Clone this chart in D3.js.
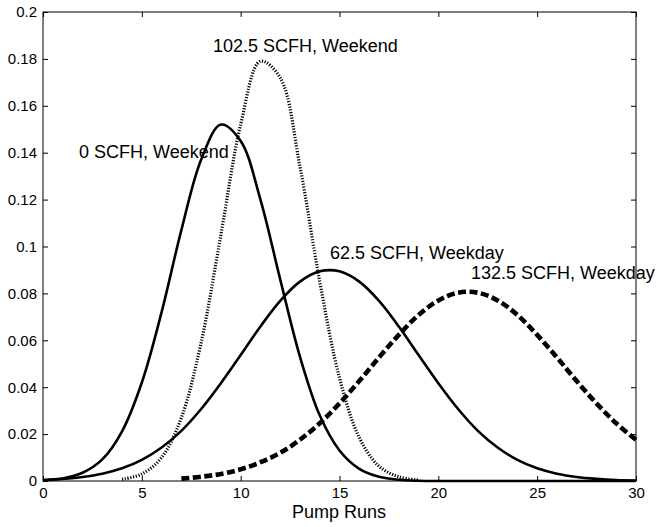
<!DOCTYPE html>
<html><head><meta charset="utf-8">
<script src="https://cdn.jsdelivr.net/npm/d3@7"></script>
<style>
body{margin:0;background:#fff;}
svg{display:block;font-family:"Liberation Sans",Arial,sans-serif;}
</style></head>
<body><svg id="chart" width="662" height="527"></svg>
<script>
// Data (Pump Runs -> probability)
const xs0 = [0,1,2,3,4,5,6,7,8,9,10,11,12,13,14,15,16,17,18,19,20,21,22,23,24,25,26,27,28,29,30];
const weekend0 = [0.0003,0.0011,0.0035,0.0092,0.0212,0.042,0.072,0.107,0.137,0.152,0.145,0.120,0.086,0.053,0.028,0.013,0.0052,0.0018,0.0005,0.0001,0,0,0,0,0,0,0,0,0,0,0];
const xs102 = [4,5,6,7,8,9,10,11,12,13,14,15,16,17,18,19];
const weekend102 = [0.0007,0.003,0.010,0.027,0.059,0.105,0.152,0.179,0.172,0.134,0.085,0.044,0.0185,0.0063,0.0018,0.0004];
const weekday62 = [0.0004,0.0009,0.0017,0.0031,0.0054,0.009,0.0143,0.0214,0.0307,0.0417,0.0537,0.0659,0.0768,0.085,0.0894,0.0894,0.085,0.0768,0.0659,0.0537,0.0417,0.0307,0.0214,0.0143,0.009,0.0054,0.0031,0.0017,0.0009,0.0004,0.0002];
const xs132 = [7,8,9,10,11,12,13,14,15,16,17,18,19,20,21,22,23,24,25,26,27,28,29,30];
const weekday132 = [0.001,0.0018,0.003,0.005,0.008,0.012,0.0176,0.0246,0.0331,0.0426,0.0527,0.0623,0.0708,0.077,0.0803,0.0803,0.077,0.0708,0.0623,0.0527,0.0426,0.0331,0.0246,0.0176];
const xTicks = [0,5,10,15,20,25,30];
const yTicks = [0,0.02,0.04,0.06,0.08,0.1,0.12,0.14,0.16,0.18,0.2];
const labels = ["0 SCFH, Weekend","102.5 SCFH, Weekend","62.5 SCFH, Weekday","132.5 SCFH, Weekday"];

const svg = d3.select("#chart");
const L=43, R=636, T=12, B=481;
const x = d3.scaleLinear().domain([0,30]).range([L,R]);
const y = d3.scaleLinear().domain([0,0.2]).range([B,T]);

const series = [
  {xs: xs0, ys: weekend0, dash: null, w: 2.6},
  {xs: xs102, ys: weekend102, dash: "1.2,1.6", w: 3.2},
  {xs: xs0, ys: weekday62, dash: null, w: 2.6},
  {xs: xs132, ys: weekday132, dash: "8,3.5", w: 4.6}
];
const line = d3.line().x(d=>x(d[0])).y(d=>Math.min(y(d[1]),B)).curve(d3.curveCatmullRom.alpha(0.5));
series.forEach(s=>{
  svg.append("path").datum(s.xs.map((v,i)=>[v,s.ys[i]]))
    .attr("d", line).attr("fill","none").attr("stroke","#000")
    .attr("stroke-width", s.w).attr("stroke-dasharray", s.dash);
});

// box with inward ticks
svg.append("rect").attr("x",L).attr("y",T).attr("width",R-L).attr("height",B-T)
  .attr("fill","none").attr("stroke","#000").attr("stroke-width",1);
const axBottom = d3.axisBottom(x).tickValues(xTicks).tickSize(-5).tickPadding(6).tickFormat(d3.format("d"));
const axLeft = d3.axisLeft(y).tickValues(yTicks).tickSize(-5).tickPadding(6).tickFormat(d=>d===0?"0":String(+d.toFixed(2)));
const axTop = d3.axisTop(x).tickValues(xTicks).tickSize(-5).tickFormat("");
const axRight = d3.axisRight(y).tickValues(yTicks).tickSize(-5).tickFormat("");
[[axBottom,`translate(0,${B})`],[axLeft,`translate(${L},0)`],[axTop,`translate(0,${T})`],[axRight,`translate(${R},0)`]].forEach(([a,t])=>{
  const g = svg.append("g").attr("transform",t).call(a);
  g.select(".domain").remove();
  g.selectAll("text").attr("font-size",15).attr("fill","#000").attr("font-family","Liberation Sans, Arial, sans-serif");
  g.selectAll("line").attr("stroke","#000");
});

// curve labels
const lab = svg.append("g").attr("font-size",18).attr("fill","#000");
lab.append("text").attr("x",79).attr("y",158).text(labels[0]);
lab.append("text").attr("x",213).attr("y",52).text(labels[1]);
lab.append("text").attr("x",330).attr("y",259).text(labels[2]);
lab.append("text").attr("x",471).attr("y",279).text(labels[3]);

svg.append("text").attr("x",339).attr("y",518).attr("text-anchor","middle")
  .attr("font-size",18).text("Pump Runs");
</script></body></html>
